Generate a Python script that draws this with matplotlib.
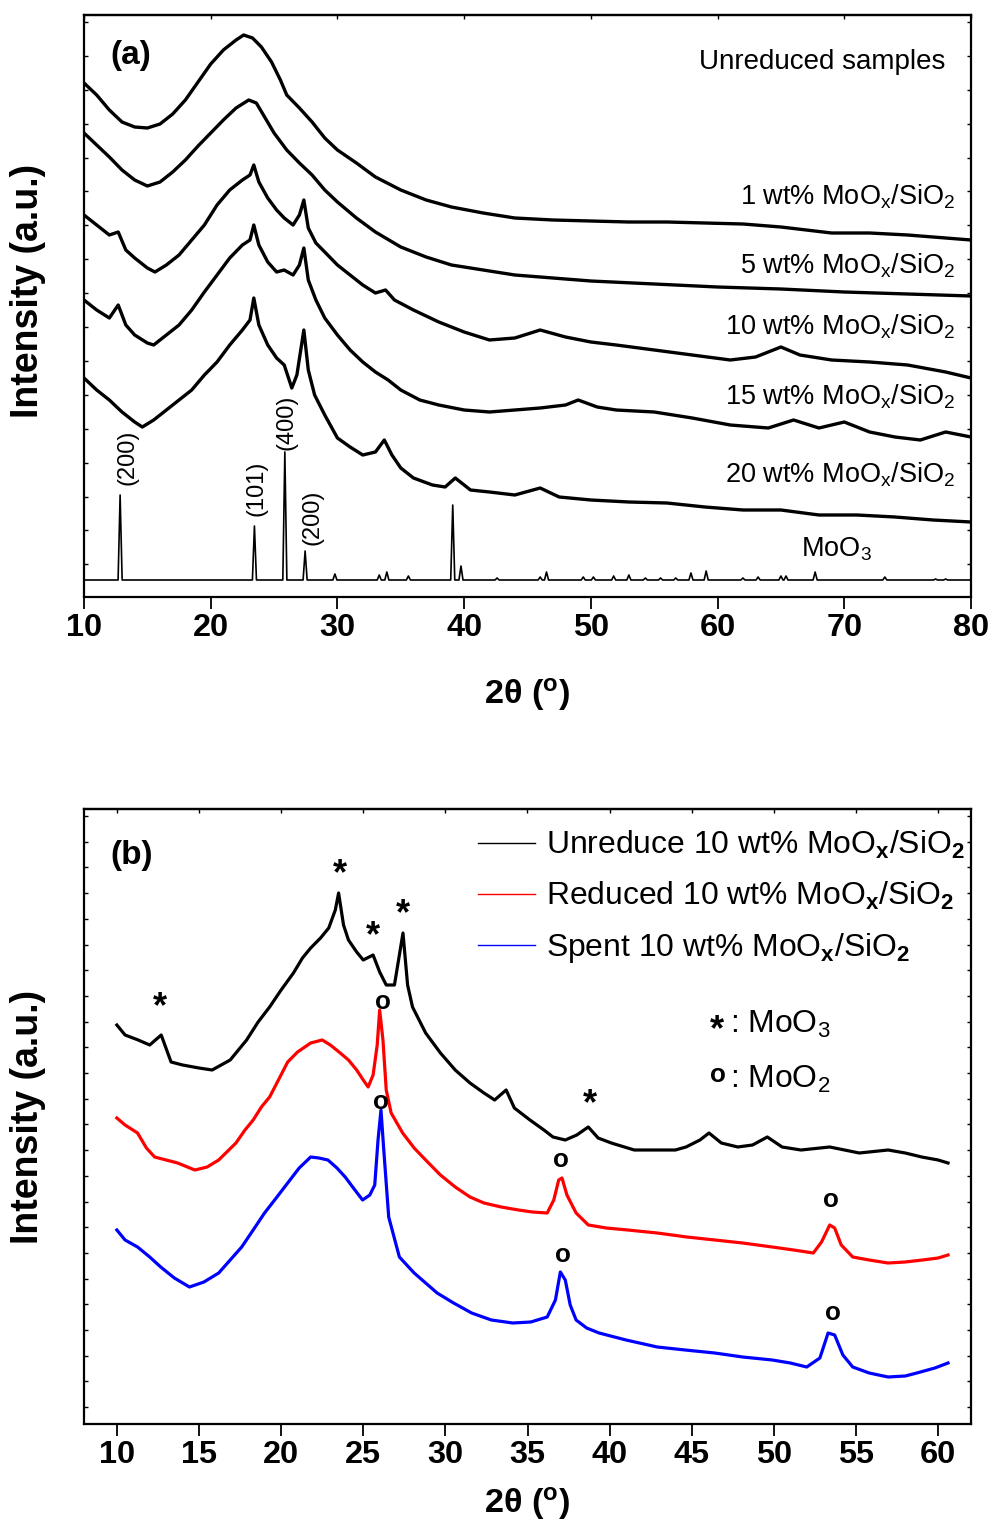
import numpy as np
import matplotlib.pyplot as plt
from matplotlib import font_manager

# fonts: narrow face if present, otherwise plain Liberation Sans a bit smaller
installed = {f.name for f in font_manager.fontManager.ttflist}
if 'Liberation Sans Narrow' in installed:
    NARROW, s = 'Liberation Sans Narrow', 1.0
else:
    NARROW, s = 'Liberation Sans', 0.85
plt.rcParams['font.family'] = [NARROW, 'DejaVu Sans']
plt.rcParams['mathtext.fontset'] = 'custom'
plt.rcParams['mathtext.rm'] = NARROW
plt.rcParams['mathtext.it'] = NARROW + ':italic'
plt.rcParams['mathtext.bf'] = NARROW + ':bold'

# ---------------- data, panel (a) ----------------
a1_x = [10.0, 11.0, 12.0, 13.0, 14.0, 15.0, 16.0, 17.0, 18.0, 19.0, 20.0, 21.0, 22.0, 22.6, 23.3, 24.0, 24.8, 25.5,
        26.0, 27.0, 28.0, 29.0, 30.0, 31.5, 33.0, 35.0, 37.0, 39.0, 41.5, 44.0, 47.0, 50.0, 53.0, 56.0, 59.0, 62.0,
        65.0, 67.0, 69.0, 72.0, 75.0, 78.0, 80.0]
a1_y = [514, 502, 487, 475, 470, 469, 473, 483, 497, 515, 533, 547, 557, 562, 559, 550, 535, 517,
        502, 489, 475, 459, 447, 434, 420, 407, 397, 390, 384, 379, 377, 376, 375, 375, 374, 373,
        370, 367, 364, 364, 362, 359, 357]

a5_x = [10.0, 11.0, 12.0, 13.0, 14.0, 15.0, 16.0, 17.0, 18.0, 19.0, 20.0, 21.0, 22.0, 23.0, 23.6, 24.3, 25.0, 26.0,
        27.0, 28.0, 29.0, 30.0, 31.5, 33.0, 35.0, 37.0, 39.0, 41.5, 44.0, 47.0, 50.0, 55.0, 60.0, 65.0, 70.0, 75.0, 80.0]
a5_y = [464, 452, 440, 427, 417, 411, 415, 425, 437, 451, 464, 477, 489, 497, 494, 479, 464, 447,
        434, 422, 407, 395, 379, 365, 350, 340, 332, 327, 322, 319, 316, 313, 310, 308, 305, 303, 301]

a10_x = [10.0, 11.0, 12.0, 12.7, 13.3, 14.0, 15.0, 15.6, 16.5, 17.5, 18.5, 19.5, 20.5, 21.5, 22.5, 23.1, 23.4, 23.8,
         24.5, 25.2, 25.8, 26.5, 27.0, 27.35, 27.7, 28.3, 29.0, 30.0, 31.0, 32.0, 33.0, 33.8, 34.5, 36.0, 38.0, 40.0,
         42.0, 44.0, 46.0, 48.0, 50.0, 52.0, 55.0, 58.0, 61.0, 63.0, 65.0, 66.5, 69.0, 72.0, 75.0, 78.0, 80.0]
a10_y = [382, 372, 362, 365, 347, 339, 329, 325, 332, 342, 357, 372, 392, 407, 417, 422, 432, 415,
         399, 387, 379, 372, 382, 397, 369, 354, 345, 332, 322, 312, 304, 307, 297, 287, 275, 265,
         257, 259, 267, 260, 255, 252, 247, 242, 237, 240, 250, 242, 237, 235, 232, 225, 219]

a15_x = [10.0, 11.0, 12.0, 12.7, 13.3, 14.0, 15.0, 15.5, 16.5, 17.5, 18.5, 19.5, 20.5, 21.5, 22.5, 23.1, 23.4, 23.8,
         24.5, 25.2, 25.8, 26.5, 27.0, 27.35, 27.7, 28.3, 29.0, 30.0, 31.0, 32.0, 33.0, 34.0, 35.0, 36.5, 38.0, 40.0,
         42.0, 44.0, 46.0, 48.0, 49.0, 50.5, 52.0, 55.0, 58.0, 61.0, 64.0, 66.0, 68.0, 70.0, 72.0, 74.0, 76.0, 78.0, 80.0]
a15_y = [297, 287, 279, 292, 272, 262, 254, 252, 262, 272, 287, 305, 322, 339, 352, 357, 372, 352,
         335, 325, 327, 322, 332, 349, 317, 297, 279, 262, 247, 235, 225, 217, 207, 197, 192, 187,
         185, 187, 189, 192, 197, 190, 187, 185, 179, 172, 169, 177, 169, 175, 165, 160, 157, 165, 160]

a20_x = [10.0, 11.0, 12.0, 13.0, 14.0, 14.6, 15.5, 16.5, 17.5, 18.5, 19.5, 20.5, 21.5, 22.5, 23.1, 23.4, 23.8, 24.5,
         25.2, 25.8, 26.4, 26.8, 27.35, 27.7, 28.2, 29.0, 30.0, 31.0, 32.0, 33.0, 33.7, 34.3, 35.0, 36.0, 37.5, 38.5,
         39.3, 40.5, 42.0, 44.0, 46.0, 47.5, 50.0, 53.0, 56.0, 59.0, 62.0, 65.0, 68.0, 71.0, 74.0, 77.0, 80.0]
a20_y = [219, 207, 197, 185, 175, 170, 177, 187, 197, 207, 222, 235, 252, 267, 277, 299, 272, 252,
         239, 232, 209, 222, 267, 227, 202, 182, 159, 150, 142, 145, 157, 142, 129, 119, 112, 110,
         119, 107, 105, 102, 109, 100, 97, 95, 94, 90, 87, 87, 82, 82, 80, 77, 75]

# MoO3 reference pattern: peak positions and peak tops on a flat baseline
moo3_base = 17
moo3_pos = [12.85, 23.45, 25.85, 27.45, 29.8, 33.3, 33.9, 35.6, 39.1, 39.75, 42.6, 46.0, 46.5, 49.4, 50.2,
            51.8, 53.0, 54.3, 55.5, 56.7, 57.9, 59.1, 62.0, 63.2, 65.0, 65.4, 67.7, 73.2, 77.2, 78.0]
moo3_top = [102, 71, 145, 46, 23, 22, 25, 21, 92, 31, 19, 20, 25, 20, 20,
            21, 22, 19, 19, 19, 24, 26, 19, 20, 21, 21, 25, 20, 18, 18]

a_labels = ['1 wt% MoO$_\\mathregular{x}$/SiO$_\\mathregular{2}$',
            '5 wt% MoO$_\\mathregular{x}$/SiO$_\\mathregular{2}$',
            '10 wt% MoO$_\\mathregular{x}$/SiO$_\\mathregular{2}$',
            '15 wt% MoO$_\\mathregular{x}$/SiO$_\\mathregular{2}$',
            '20 wt% MoO$_\\mathregular{x}$/SiO$_\\mathregular{2}$',
            'MoO$_\\mathregular{3}$']
hkl_text = ['(200)', '(101)', '(400)', '(200)']
hkl_x = [13.47, 23.65, 26.0, 28.0]
hkl_y = [140, 109, 175, 80]

# ---------------- data, panel (b) ----------------
b_unred_x = [10.0, 10.5, 11.3, 12.0, 12.7, 13.3, 14.0, 15.0, 15.8, 16.9, 17.9, 18.6, 19.3, 20.0, 20.75, 21.3, 21.8,
             22.4, 22.9, 23.3, 23.5, 23.8, 24.1, 24.6, 25.0, 25.6, 26.0, 26.4, 26.9, 27.15, 27.42, 27.7, 28.0, 28.8,
             29.7, 30.6, 31.5, 32.35, 33.0, 33.7, 34.2, 35.15, 36.0, 36.55, 37.3, 38.0, 38.7, 39.3, 40.1, 41.5, 42.9,
             44.0, 44.65, 45.5, 46.05, 46.8, 47.8, 48.7, 49.6, 50.5, 51.65, 53.4, 55.2, 56.95, 58.0, 59.0, 60.0, 60.6]
b_unred_y = [399, 389, 384, 379, 389, 362, 359, 356, 354, 364, 384, 402, 417, 434, 451, 466, 476,
             486, 496, 514, 531, 499, 484, 472, 464, 469, 452, 439, 439, 464, 491, 439, 417, 391,
             371, 354, 341, 331, 324, 334, 316, 304, 294, 287, 284, 289, 297, 286, 281, 274, 274,
             274, 277, 284, 291, 281, 277, 279, 287, 277, 274, 277, 271, 274, 271, 267, 264, 261]

b_red_x = [10.0, 10.5, 11.26, 11.8, 12.3, 13.0, 13.7, 14.75, 15.5, 16.2, 17.25, 17.8, 18.3, 18.8, 19.3, 19.9, 20.4,
           21.0, 21.8, 22.5, 23.0, 23.6, 24.1, 24.6, 25.0, 25.3, 25.6, 25.85, 26.0, 26.2, 26.4, 26.7, 27.4, 28.1,
           28.8, 29.7, 30.6, 31.5, 32.35, 33.4, 34.45, 35.3, 36.2, 36.6, 36.9, 37.1, 37.4, 37.96, 38.7, 39.8, 41.1,
           42.9, 44.7, 46.4, 48.1, 49.9, 51.2, 52.4, 52.9, 53.4, 53.7, 54.1, 54.8, 55.8, 56.95, 58.0, 59.05, 60.0, 60.6]
b_red_y = [306, 299, 291, 276, 267, 264, 261, 254, 257, 264, 281, 294, 304, 317, 327, 346, 362,
           372, 381, 384, 379, 371, 364, 354, 344, 337, 349, 379, 414, 384, 334, 311, 291, 276,
           264, 249, 237, 227, 221, 217, 214, 212, 211, 224, 244, 246, 229, 211, 199, 196, 194,
           191, 187, 184, 181, 177, 174, 171, 182, 199, 196, 179, 167, 164, 161, 162, 164, 166, 169]

b_spent_x = [10.0, 10.5, 11.26, 12.0, 12.67, 13.5, 14.42, 15.3, 16.2, 16.9, 17.6, 18.3, 18.99, 19.7, 20.4, 21.1,
             21.8, 22.3, 22.85, 23.4, 23.9, 24.4, 24.96, 25.4, 25.7, 25.9, 26.08, 26.25, 26.55, 27.2, 28.1, 28.8,
             29.5, 30.5, 31.6, 32.8, 34.1, 35.2, 36.2, 36.7, 37.0, 37.3, 37.6, 37.96, 38.6, 39.36, 41.0, 42.9, 44.6,
             46.4, 48.1, 49.9, 51.0, 52.0, 52.8, 53.3, 53.7, 54.2, 54.8, 55.8, 56.95, 58.0, 58.7, 59.8, 60.6]
b_spent_y = [194, 184, 177, 167, 157, 146, 137, 142, 151, 164, 177, 194, 211, 226, 241, 256,
             267, 266, 264, 256, 247, 236, 224, 229, 239, 284, 314, 274, 207, 167, 151, 141,
             131, 121, 111, 104, 101, 102, 107, 124, 152, 144, 119, 104, 96, 91, 84, 77, 74,
             71, 67, 64, 61, 57, 66, 91, 89, 69, 57, 51, 47, 48, 51, 56, 61]

b_labels = ['Unreduce 10 wt% MoO$_\\mathbf{x}$/SiO$_\\mathbf{2}$',
            'Reduced 10 wt% MoO$_\\mathbf{x}$/SiO$_\\mathbf{2}$',
            'Spent 10 wt% MoO$_\\mathbf{x}$/SiO$_\\mathbf{2}$']
b_colors = ['black', 'red', 'blue']

# phase marks (* = MoO3, o = MoO2)
star_x = [12.62, 23.58, 25.59, 27.42, 38.81]
star_y = [416, 549, 487, 509, 319]
o_x = [26.2, 26.08, 37.04, 53.48, 37.16, 53.6]
o_y = [422, 322, 264, 224, 169, 111]

ticks_a = [10, 20, 30, 40, 50, 60, 70, 80]
ticks_b = [10, 15, 20, 25, 30, 35, 40, 45, 50, 55, 60]

# ---------------- figure ----------------
fig = plt.figure(figsize=(9.93, 15.26), dpi=100)
ax_a = fig.add_axes([84 / 993, 1 - 597 / 1526, 887 / 993, 582 / 1526])
ax_b = fig.add_axes([84 / 993, 1 - 1424 / 1526, 887 / 993, 615 / 1526])


def style_axes(ax, ticks, xlim, ylim, ystep, xpad, ylab_y):
    ax.set_xlim(*xlim)
    ax.set_ylim(*ylim)
    for sp in ax.spines.values():
        sp.set_linewidth(1.6)
    ax.set_xticks(ticks)
    ax.set_xticklabels([str(t) for t in ticks], fontweight='bold', fontsize=27.5 * s)
    ax.tick_params(axis='x', direction='out', length=8.5, width=1.3, pad=3)
    ax.set_yticks(np.arange(ylim[1] - 7, 0, -ystep))
    ax.tick_params(axis='y', direction='in', length=3, width=1, left=True, right=True, labelleft=False)
    top = ax.secondary_xaxis('top')
    top.set_xticks(ticks)
    top.tick_params(direction='in', length=3, width=1, labeltop=False)
    top.spines['top'].set_linewidth(1.6)
    ax.set_xlabel('2θ ($^\\mathbf{o}$)', fontweight='bold', fontsize=29 * s, labelpad=xpad)
    ax.set_ylabel('Intensity (a.u.)', fontweight='bold', fontsize=27, family='Liberation Sans')
    ax.yaxis.set_label_coords(-0.043, ylab_y)


style_axes(ax_a, ticks_a, (10, 80), (0, 582), 33.9, 24, 0.526)
style_axes(ax_b, ticks_b, (8, 62), (0, 615), 25.7, 11, 0.5)

# panel (a) curves
for xs, ys in [(a1_x, a1_y), (a5_x, a5_y), (a10_x, a10_y), (a15_x, a15_y), (a20_x, a20_y)]:
    ax_a.plot(xs, ys, color='black', lw=2.4)

w = 0.16
mx, my = [10.0], [moo3_base]
for p, t in zip(moo3_pos, moo3_top):
    mx += [p - w, p, p + w]
    my += [moo3_base, t, moo3_base]
mx.append(80.0)
my.append(moo3_base)
ax_a.plot(mx, my, color='black', lw=1.2)

lab_y = [0.675, 0.556, 0.451, 0.330, 0.196, 0.069]
for txt, yy in zip(a_labels, lab_y):
    ax_a.text(0.982 if txt[0] != 'M' else 0.888, yy, txt, transform=ax_a.transAxes,
              ha='right', va='baseline', fontsize=23 * s)
ax_a.text(0.971, 0.908, 'Unreduced samples', transform=ax_a.transAxes, ha='right', va='baseline',
          fontsize=23.5 * s)
ax_a.text(0.03, 0.93, '(a)', transform=ax_a.transAxes, ha='left', va='center', fontweight='bold',
          fontsize=24, family='Liberation Sans')
for txt, x, y in zip(hkl_text, hkl_x, hkl_y):
    ax_a.text(x, y, txt, rotation=90, ha='center', va='center', fontsize=17, family='Liberation Sans')

# panel (b) curves
lines = []
for (xs, ys), c, lab in zip([(b_unred_x, b_unred_y), (b_red_x, b_red_y), (b_spent_x, b_spent_y)],
                            b_colors, b_labels):
    ln, = ax_b.plot(xs, ys, color=c, lw=2.3, label=lab)
    lines.append(ln)

leg = ax_b.legend(handles=lines, loc='upper left', bbox_to_anchor=(0.444, 0.968), frameon=False,
                  fontsize=27 * s, borderpad=0, borderaxespad=0, handlelength=1.8, handletextpad=0.35,
                  labelspacing=0.6)
for lh in leg.get_lines():
    lh.set_linewidth(1.0)

for x, y in zip(star_x, star_y):
    ax_b.text(x, y, '*', ha='center', va='center', fontweight='bold', fontsize=26, family='Liberation Sans')
for x, y in zip(o_x, o_y):
    ax_b.text(x, y, 'o', ha='center', va='center', fontweight='bold', fontsize=22 * s)

ax_b.text(0.7136, 0.640, '*', transform=ax_b.transAxes, ha='center', va='center', fontweight='bold',
          fontsize=26, family='Liberation Sans')
ax_b.text(0.728, 0.636, ': MoO$_\\mathregular{3}$', transform=ax_b.transAxes, ha='left', va='baseline',
          fontsize=27 * s)
ax_b.text(0.7148, 0.5675, 'o', transform=ax_b.transAxes, ha='center', va='center', fontweight='bold',
          fontsize=22 * s)
ax_b.text(0.728, 0.546, ': MoO$_\\mathregular{2}$', transform=ax_b.transAxes, ha='left', va='baseline',
          fontsize=27 * s)
ax_b.text(0.03, 0.925, '(b)', transform=ax_b.transAxes, ha='left', va='center', fontweight='bold',
          fontsize=24, family='Liberation Sans')

fig.savefig('out.png', dpi=100)
